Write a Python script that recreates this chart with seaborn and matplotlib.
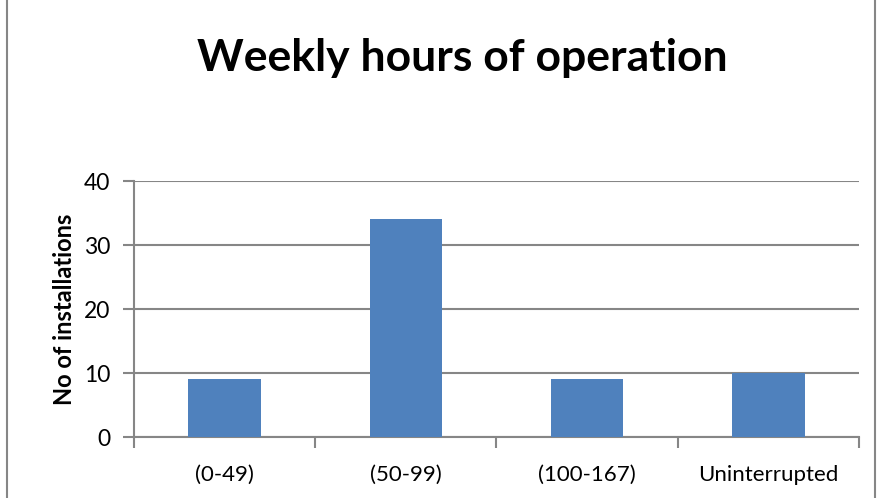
import matplotlib
matplotlib.use("Agg")
import matplotlib.pyplot as plt
import seaborn as sns
import pandas as pd
from matplotlib.lines import Line2D

categories = ["(0-49)", "(50-99)", "(100-167)", "Uninterrupted"]
installations = [9, 34, 9, 10]
y_ticks = [0, 10, 20, 30, 40]
title = "Weekly hours of operation"
y_label = "No of installations"

sns.set_theme(style="white")
plt.rcParams['font.family'] = ['Lato', 'DejaVu Sans']
plt.rcParams['text.color'] = 'black'

df = pd.DataFrame({"cat": categories, "val": installations})

fig = plt.figure(figsize=(8.77, 4.98), dpi=100)
ax = fig.add_axes([134/877, 1-437/498, (859-134)/877, (437-181)/498])
sns.barplot(data=df, x="cat", y="val", color="#4F81BD", width=0.40, saturation=1,
            linewidth=0, ax=ax, zorder=3)

grid_c = "#868686"
ax.set_ylim(0, 40)
ax.set_xlim(-0.5, 3.5)
ax.set_yticks(y_ticks)
ax.set_yticklabels([str(t) for t in y_ticks], fontsize=16.5, color="#000000")
ax.yaxis.grid(True, color=grid_c, linewidth=1.5, zorder=0)
ax.set_axisbelow(True)
for s in ["top", "right"]:
    ax.spines[s].set_visible(False)
for s in ["left", "bottom"]:
    ax.spines[s].set_color(grid_c)
    ax.spines[s].set_linewidth(1.5)
ax.tick_params(axis="y", which="major", left=True, length=8, width=1.5, color=grid_c, pad=9)
ax.set_xticks(range(len(categories)))
ax.set_xticklabels(categories, fontsize=16, color="#000000")
ax.tick_params(axis="x", which="major", bottom=False, pad=14)
ax.set_xticks([-0.5, 0.5, 1.5, 2.5, 3.5], minor=True)
ax.tick_params(axis="x", which="minor", bottom=True, length=8, width=1.5, color=grid_c)
ax.set_xlabel("")
ax.set_ylabel(y_label, fontsize=17, fontweight="bold", labelpad=6, color="black")

fig.text(0.527, 1-58/498, title, ha="center", va="center", fontsize=32, fontweight="bold", color="black")

# chart frame
fig.add_artist(Line2D([7/877, 7/877], [0, 1], transform=fig.transFigure, color=grid_c, linewidth=1.5))
fig.add_artist(Line2D([875/877, 875/877], [0, 1], transform=fig.transFigure, color=grid_c, linewidth=1.5))

fig.savefig("out.png", dpi=100)
